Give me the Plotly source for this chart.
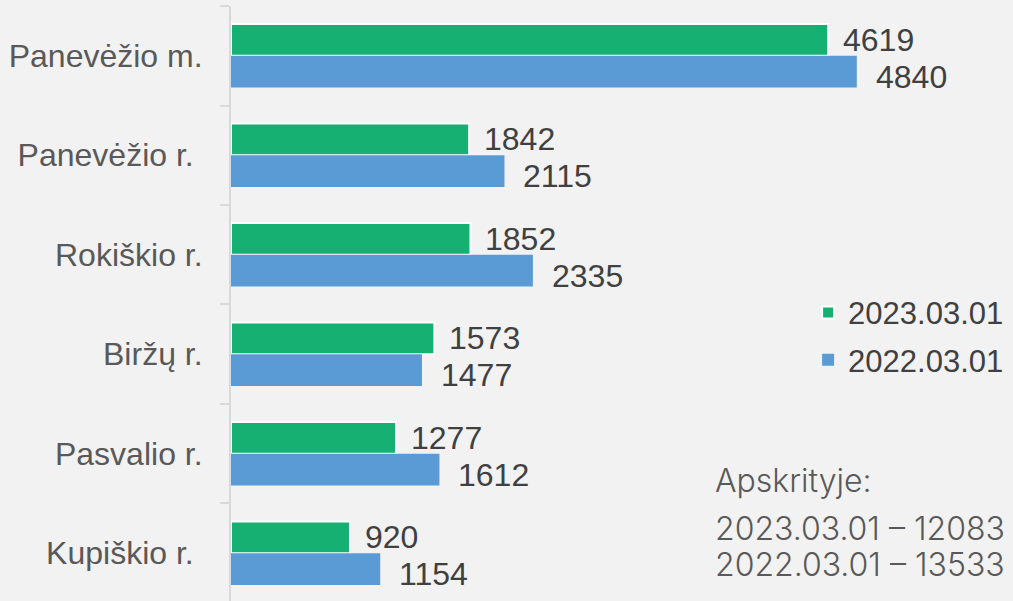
import plotly.graph_objects as go

categories = ["Panevėžio m.", "Panevėžio r.", "Rokiškio r.", "Biržų r.", "Pasvalio r.", "Kupiškio r."]
tick_labels = ["Panevėžio m.", "Panevėžio r.\u00a0", "Rokiškio r.", "Biržų r.", "Pasvalio r.", "Kupiškio r.\u00a0"]
series_names = ["2023.03.01", "2022.03.01"]
values_2023 = [4619, 1842, 1852, 1573, 1277, 920]
values_2022 = [4840, 2115, 2335, 1477, 1612, 1154]
note_title = "Apskrityje:"
note_lines = ["2023.03.01 – 12083", "2022.03.01 – 13533"]

GREEN = "#15B072"
BLUE = "#5B9BD5"
BG = "#F2F2F2"
LABEL_FONT = "Liberation Sans, Arial, sans-serif"

fig = go.Figure()
fig.add_trace(go.Bar(
    y=categories, x=values_2023, orientation="h", name=series_names[0],
    marker=dict(color=GREEN, line=dict(color="white", width=2)),
    legendgroup="a",
))
fig.add_trace(go.Bar(
    y=categories, x=values_2022, orientation="h", name=series_names[1],
    marker=dict(color=BLUE, line=dict(width=0)),
    legendgroup="b",
))

annotations = []
for c, v in zip(categories, values_2023):
    annotations.append(dict(x=v, y=c, xref="x", yref="y", text=str(v), showarrow=False,
                            xanchor="left", yanchor="middle", xshift=13, yshift=16,
                            font=dict(family=LABEL_FONT, size=32, color="#404040")))
for c, v in zip(categories, values_2022):
    annotations.append(dict(x=v, y=c, xref="x", yref="y", text=str(v), showarrow=False,
                            xanchor="left", yanchor="middle", xshift=17, yshift=-21,
                            font=dict(family=LABEL_FONT, size=32, color="#404040")))

NOTE_FONT = dict(family="Inter", size=32, color="#595959", weight=300)
annotations.append(dict(x=0.617, y=(601 - 480) / 595, xref="paper", yref="paper", text=note_title,
                        showarrow=False, xanchor="left", yanchor="middle", font=NOTE_FONT))
for i, line in enumerate(note_lines):
    annotations.append(dict(x=0.617, y=(601 - (528.5 + 36 * i)) / 595, xref="paper", yref="paper",
                            text=line, showarrow=False, xanchor="left", yanchor="middle",
                            font=NOTE_FONT))

fig.update_layout(
    width=1013, height=601,
    margin=dict(l=231, r=0, t=6, b=0, autoexpand=False),
    paper_bgcolor=BG, plot_bgcolor=BG,
    barmode="group", bargap=0.36, bargroupgap=0,
    showlegend=True,
    legend=dict(x=0.738, y=0.445, xanchor="left", yanchor="middle",
                bgcolor="rgba(0,0,0,0)", tracegroupgap=4,
                font=dict(family=LABEL_FONT, size=31, color="#404040")),
    annotations=annotations,
    xaxis=dict(range=[0, 6048], visible=False, showgrid=False, zeroline=False),
    yaxis=dict(
        type="category", range=[5.48, -0.5],
        tickmode="array", tickvals=categories, ticktext=tick_labels,
        tickson="boundaries", ticks="outside", ticklen=9, tickwidth=2, tickcolor="#D9D9D9",
        showline=True, linecolor="#D9D9D9", linewidth=2,
        showgrid=False, zeroline=False,
        ticklabelstandoff=20,
        tickfont=dict(family=LABEL_FONT, size=32, color="#595959"),
    ),
)

fig.write_html(
    "out.html",
    config={"displayModeBar": False},
    post_script="document.body.style.margin='0';document.body.style.overflow='hidden';",
)
